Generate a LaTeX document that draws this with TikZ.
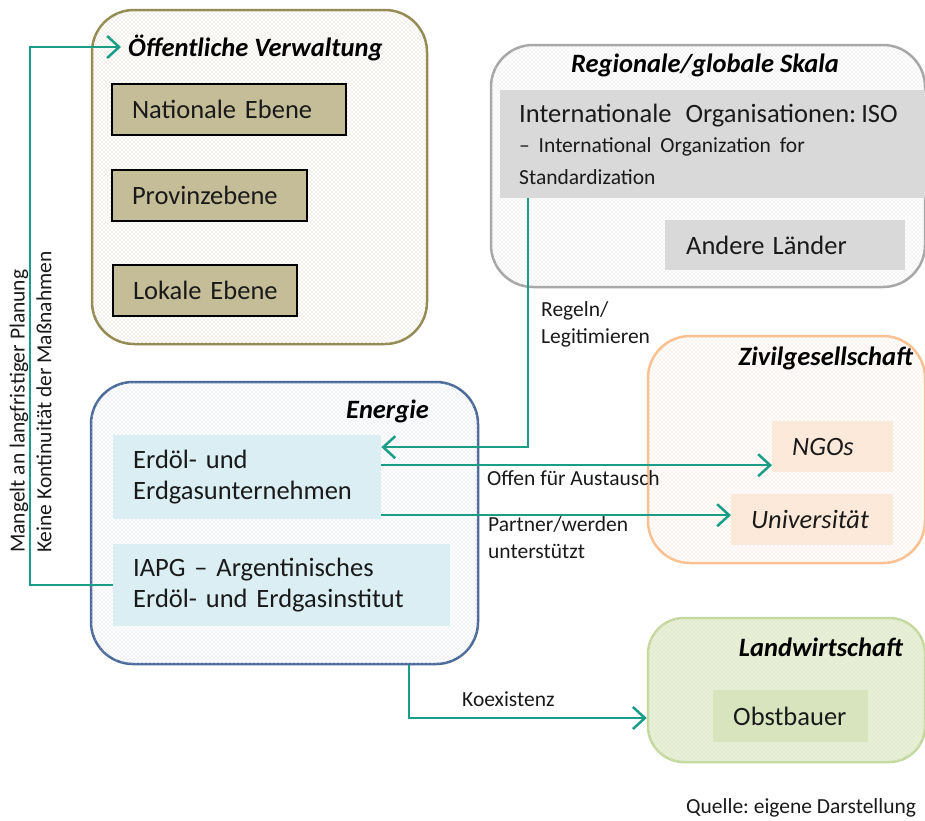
\documentclass[tikz,border=0pt]{standalone}
\usepackage{fontspec}
\setmainfont{Carlito}
\usetikzlibrary{arrows.meta,patterns}
\frenchspacing

% fine diagonal dot grid used inside the group panels
\pgfdeclarepatternformonly{finedots}{\pgfqpoint{-1pt}{-1pt}}{\pgfqpoint{3pt}{3pt}}{\pgfqpoint{4pt}{4pt}}{%
  \pgfpathcircle{\pgfqpoint{0pt}{0pt}}{0.6pt}%
  \pgfpathcircle{\pgfqpoint{2pt}{2pt}}{0.6pt}%
  \pgfusepath{fill}}

\definecolor{oevLine}{HTML}{938953}
\definecolor{oevDot}{HTML}{C9C2A0}
\definecolor{tanFill}{HTML}{C4BD97}
\definecolor{regLine}{HTML}{A6A6A6}
\definecolor{regDot}{HTML}{D0D0D0}
\definecolor{grayFill}{HTML}{D9D9D9}
\definecolor{zivLine}{HTML}{FAC090}
\definecolor{zivDot}{HTML}{F7CDB0}
\definecolor{peachFill}{HTML}{FDE9D9}
\definecolor{enLine}{HTML}{4A6898}
\definecolor{enDot}{HTML}{C2D3E8}
\definecolor{blueFill}{HTML}{DAEEF3}
\definecolor{lwLine}{HTML}{C3D69B}
\definecolor{lwBg}{HTML}{E3ECCF}
\definecolor{greenFill}{HTML}{D7E4BD}
\definecolor{teal}{HTML}{1B9E87}
\definecolor{textc}{HTML}{1A1A1A}

\begin{document}
\begin{tikzpicture}[x=1pt,y=-1pt,
  group/.style={rounded corners=42pt, line width=2.5pt, inner sep=0pt},
  item/.style={inner xsep=20pt, inner ysep=0pt, align=left, anchor=north west,
    text=textc, font=\fontsize{26.5}{31.5}\selectfont},
  title/.style={inner sep=0pt, text=black, font=\fontsize{26.5}{30}\selectfont\bfseries\itshape},
  lbl/.style={inner sep=0pt, align=left, text=textc, font=\fontsize{21.5}{27}\selectfont},
  conn/.style={draw=teal, line width=2.5pt, -{Straight Barb[length=12pt,width=22pt,line width=2.5pt]}}]

\useasboundingbox (0,0) rectangle (925,820);

% group panels
\node[group, draw=oevLine, fill=white, postaction={pattern=finedots, pattern color=oevDot},
  minimum width=335pt, minimum height=334pt] (oev) at (259.5,177) {};
\node[group, draw=regLine, fill=white, postaction={pattern=finedots, pattern color=regDot},
  minimum width=434pt, minimum height=242pt] (reg) at (708,166) {};
\node[group, draw=zivLine, fill=white, postaction={pattern=finedots, pattern color=zivDot},
  minimum width=277pt, minimum height=227pt] (ziv) at (786.5,449.5) {};
\node[group, draw=enLine, fill=white, postaction={pattern=finedots, pattern color=enDot},
  minimum width=387pt, minimum height=282pt] (en) at (284.5,523) {};
\node[group, rounded corners=36pt, draw=lwLine, fill=lwBg, postaction={pattern=finedots, pattern color=white},
  minimum width=277pt, minimum height=144pt] (lw) at (786.5,690) {};

% panel titles
\node[title, anchor=west] (oevT) at (128,48) {Öffentliche Verwaltung};
\node[title] (regT) at (705,65) {Regionale/globale Skala};
\node[title, anchor=east] (zivT) at (913,358) {Zivilgesellschaft};
\node[title, anchor=east] (enT) at (429,411) {Energie};
\node[title, anchor=east] (lwT) at (903,647) {Landwirtschaft};

% public administration levels
\node[item, draw=black, line width=2pt, fill=tanFill, text width=194pt, minimum height=51pt] (nat) at (111,83) {\mbox{Nationale Ebene}};
\node[item, draw=black, line width=2pt, fill=tanFill, text width=155pt, minimum height=51pt] (prov) at (111,169) {\mbox{Provinzebene}};
\node[item, draw=black, line width=2pt, fill=tanFill, text width=144pt, minimum height=51pt] (lok) at (112,264) {\mbox{Lokale Ebene}};

% regional / global scale
\node[item, inner xsep=19pt, fill=grayFill, text width=387pt, minimum height=108pt] (iso) at (500,90)
  {\mbox{Internationale\hspace{14pt}Organisationen:\hspace{5pt}ISO}\\[3pt]
   {\fontsize{21.5}{27}\selectfont – International Organization for\\Standardization}};
\node[item, inner xsep=21pt, fill=grayFill, text width=198pt, minimum height=50pt] (andere) at (665,220) {\mbox{Andere\hspace{8pt}Länder}};

% civil society
\node[item, fill=peachFill, text width=81pt, minimum height=51pt, font=\fontsize{26.5}{31.5}\selectfont\itshape] (ngo) at (772,421) {\mbox{NGOs}};
\node[item, fill=peachFill, text width=122pt, minimum height=51pt, font=\fontsize{26.5}{31.5}\selectfont\itshape] (uni) at (731,494) {\mbox{Universität}};

% energy sector
\node[item, fill=blueFill, text width=228pt, minimum height=84pt] (erdoel) at (113,435) {Erdöl- und\\\mbox{Erdgasunternehmen}};
\node[item, fill=blueFill, text width=297pt, minimum height=82pt] (iapg) at (113,544) {IAPG – Argentinisches\\\mbox{Erdöl- und Erdgasinstitut}};

% agriculture
\node[item, fill=greenFill, text width=115pt, minimum height=52pt] (obst) at (713,690) {\mbox{Obstbauer}};

% connectors
\coordinate (bendL) at (30,47);
\draw[conn] (iapg.west) -| (bendL) -- ([xshift=-7pt,yshift=1pt]oevT.west);

\coordinate (isoOut) at ([xshift=28pt]iso.south west);
\coordinate (erdIn) at ([yshift=30pt]erdoel.east);
\draw[conn] (isoOut) |- (erdIn);

\coordinate (erdA) at ([yshift=12pt]erdoel.east);
\draw[conn] (erdA) -- (erdA -| ngo.west);

\coordinate (erdB) at ([yshift=-38pt]erdoel.east);
\draw[conn] (erdB) -- (erdB -| uni.west);

\coordinate (enOut) at ([xshift=124.5pt]en.south);
\coordinate (koTurn) at (409,718);
\draw[conn] (enOut) -- (koTurn) -- (koTurn -| lw.west);

% connector labels
\node[lbl, rotate=90, anchor=west] (mangel) at (19,553) {Mangelt an langfristiger Planung};
\node[lbl, rotate=90, anchor=west] (kont) at (44,553) {Keine Kontinuität der Maßnahmen};
\node[lbl, anchor=west] (regeln) at (541,324) {Regeln/\\Legitimieren};
\node[lbl, anchor=west] (offen) at (487,478) {Offen für Austausch};
\node[lbl, anchor=west] (partner) at (488,538) {Partner/werden\\unterstützt};
\node[lbl, anchor=west] (koex) at (462,699) {Koexistenz};

% source note
\node[lbl, anchor=west] (quelle) at (686,808) {Quelle: eigene Darstellung};
\end{tikzpicture}
\end{document}
